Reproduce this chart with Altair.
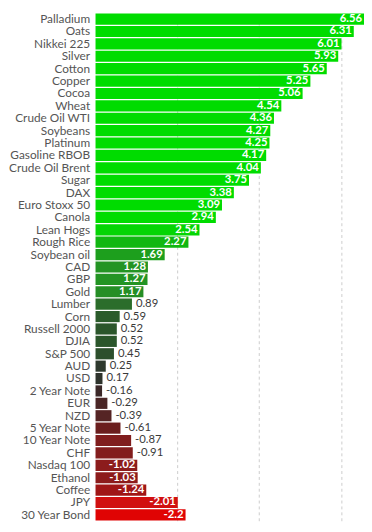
import altair as alt
import pandas as pd

names = ["Palladium", "Oats", "Nikkei 225", "Silver", "Cotton", "Copper", "Cocoa",
         "Wheat", "Crude Oil WTI", "Soybeans", "Platinum", "Gasoline RBOB",
         "Crude Oil Brent", "Sugar", "DAX", "Euro Stoxx 50", "Canola", "Lean Hogs",
         "Rough Rice", "Soybean oil", "CAD", "GBP", "Gold", "Lumber", "Corn",
         "Russell 2000", "DJIA", "S&P 500", "AUD", "USD", "2 Year Note", "EUR",
         "NZD", "5 Year Note", "10 Year Note", "CHF", "Nasdaq 100", "Ethanol",
         "Coffee", "JPY", "30 Year Bond"]
values = [6.56, 6.31, 6.01, 5.93, 5.65, 5.25, 5.06, 4.54, 4.36, 4.27, 4.25, 4.17,
          4.04, 3.75, 3.38, 3.09, 2.94, 2.54, 2.27, 1.69, 1.28, 1.27, 1.17, 0.89,
          0.59, 0.52, 0.52, 0.45, 0.25, 0.17, -0.16, -0.29, -0.39, -0.61, -0.87,
          -0.91, -1.02, -1.03, -1.24, -2.01, -2.2]
labels = ["6.56", "6.31", "6.01", "5.93", "5.65", "5.25", "5.06", "4.54", "4.36",
          "4.27", "4.25", "4.17", "4.04", "3.75", "3.38", "3.09", "2.94", "2.54",
          "2.27", "1.69", "1.28", "1.27", "1.17", "0.89", "0.59", "0.52", "0.52",
          "0.45", "0.25", "0.17", "-0.16", "-0.29", "-0.39", "-0.61", "-0.87",
          "-0.91", "-1.02", "-1.03", "-1.24", "-2.01", "-2.2"]
grid_values = [2, 4, 6]

df = pd.DataFrame({"name": names, "value": values, "label": labels})

color_domain = [-2.2, -2.0, -1.24, -1.0, -0.6, -0.15, 0.2, 0.5, 0.9, 1.2, 1.7, 2.3, 2.6]
color_range = ["#e00404", "#d01010", "#a01616", "#8a1c1c", "#6a1e1e", "#3a2828",
               "#2e342e", "#2b552b", "#2b6e2b", "#249224", "#1d9f1d", "#10b810", "#00dc00"]

base = alt.Chart(df).transform_calculate(
    absval="abs(datum.value)"
)

y_enc = alt.Y("name:N", sort=names,
              scale=alt.Scale(paddingInner=0.1, paddingOuter=0.02),
              axis=alt.Axis(title=None, domain=False, ticks=False, labelPadding=6,
                            labelFont="Lato", labelFontSize=12, labelColor="#555555",
                            labelLimit=200, minExtent=83, maxExtent=83))
x_scale = alt.Scale(domain=[0, 6.56], nice=False, zero=True)

bars = base.mark_bar().encode(
    y=y_enc,
    x=alt.X("absval:Q", scale=x_scale,
            axis=alt.Axis(title=None, values=grid_values, grid=True, gridDash=[3, 3],
                          gridColor="#cccccc", labels=False, ticks=False, domain=False,
                          minExtent=0, maxExtent=0)),
    color=alt.Color("value:Q", legend=None,
                    scale=alt.Scale(domain=color_domain, range=color_range, clamp=True)),
)

inside = base.transform_filter("abs(datum.value) >= 1").mark_text(
    align="right", baseline="middle", dx=-2, font="Lato", fontSize=11.5,
    fontWeight="bold", color="white"
).encode(y=alt.Y("name:N", sort=names), x=alt.X("absval:Q", scale=x_scale), text="label:N")

outside = base.transform_filter("abs(datum.value) < 1").mark_text(
    align="left", baseline="middle", dx=4, font="Lato", fontSize=11.5,
    color="#3a3a3a"
).encode(y=alt.Y("name:N", sort=names), x=alt.X("absval:Q", scale=x_scale), text="label:N")

chart = alt.layer(bars, inside, outside).properties(
    width=273, height=516, padding=0
).configure_view(strokeWidth=0)

chart.save("out.html", embed_options={"renderer": "svg", "actions": False})
